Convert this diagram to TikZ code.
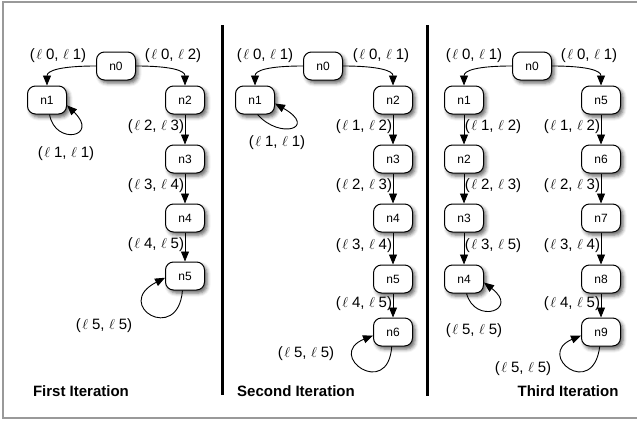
\documentclass[tikz,border=0pt]{standalone}
\usepackage{fontspec}
\setmainfont{Liberation Sans}
\usetikzlibrary{arrows.meta,shadows.blur}

% label of a transition: (l a, l b)
\newcommand\lpair[2]{(\hspace{.1em}$\ell$\hspace{.25em}#1,\hspace{.3em}$\ell$\hspace{.25em}#2)}

\begin{document}
\begin{tikzpicture}[x=1pt,y=-1pt,
  state/.style={draw, line width=1pt, fill=white, rounded corners=8pt,
    minimum width=39pt, minimum height=28pt, inner sep=0pt,
    font=\fontsize{12}{14}\selectfont,
    blur shadow={shadow xshift=2.5pt, shadow yshift=-3pt,
      shadow blur radius=3.5pt, shadow opacity=60}},
  tr/.style={-{Triangle[length=10pt,width=8pt]}, line width=0.9pt},
  lbl/.style={font=\fontsize{15}{17}\selectfont, inner sep=0pt},
  lleft/.style={lbl, anchor=east, pos=0.42, xshift=-0.5pt},
  lright/.style={lbl, anchor=west, pos=0.42, xshift=0.5pt},
  title/.style={font=\fontsize{15}{17}\selectfont\bfseries, inner sep=0pt},
  sep/.style={line width=3pt}
]
\useasboundingbox (0,0) rectangle (637,423);
\draw[gray!80, line width=1.5pt] (3,2) rectangle (660,418);

% separators between the three iterations
\draw[sep] (222,25) -- (222,395);
\draw[sep] (427,25) -- (427,396);

% ---------- first iteration ----------
\node[state] (a0) at (116,66) {n0};
\node[state] (a1) at (47,100) {n1};
\node[state] (a2) at (185,100) {n2};
\node[state] (a3) at (185,159) {n3};
\node[state] (a4) at (185,218) {n4};
\node[state] (a5) at (185,276) {n5};

\draw[tr] (a0.west) .. controls +(-35,0) and +(0,-15) .. (a1.north);
\draw[tr] (a0.east) .. controls +(35,0) and +(0,-15) .. (a2.north);
\node[lbl] at (58,56) {\lpair{0}{1}};
\node[lbl] at (173,56) {\lpair{0}{2}};
\draw[tr] (a1.-80) .. controls (55,146) and (100,137) .. (a1.-15);
\node[lbl] at (66,154) {\lpair{1}{1}};
\draw[tr] (a2) -- node[lleft] {\lpair{2}{3}} (a3);
\draw[tr] (a3) -- node[lleft] {\lpair{3}{4}} (a4);
\draw[tr] (a4) -- node[lleft] {\lpair{4}{5}} (a5);
\draw[tr] (a5.-100) .. controls (178,345) and (112,305) .. (a5.185);
\node[lbl] at (104,326) {\lpair{5}{5}};
\node[title] (t1) at (81,391) {First Iteration};

% ---------- second iteration ----------
\node[state] (b0) at (323,66) {n0};
\node[state] (b1) at (255,100) {n1};
\node[state] (b2) at (393,100) {n2};
\node[state] (b3) at (393,159) {n3};
\node[state] (b4) at (393,218) {n4};
\node[state] (b5) at (393,279) {n5};
\node[state] (b6) at (393,332) {n6};

\draw[tr] (b0.west) .. controls +(-35,0) and +(0,-15) .. (b1.north);
\draw[tr] (b0.east) .. controls +(35,0) and +(0,-15) .. (b2.north);
\node[lbl] at (265,56) {\lpair{0}{1}};
\node[lbl] at (381,56) {\lpair{0}{1}};
\draw[tr] (b1.-80) .. controls (280,140) and (318,128) .. (b1.-10);
\node[lbl] at (277,143) {\lpair{1}{1}};
\draw[tr] (b2) -- node[lleft] {\lpair{1}{2}} (b3);
\draw[tr] (b3) -- node[lleft] {\lpair{2}{3}} (b4);
\draw[tr] (b4) -- node[lleft] {\lpair{3}{4}} (b5);
\draw[tr] (b5) -- node[lleft] {\lpair{4}{5}} (b6);
\draw[tr] (b6.-95) .. controls (388,400) and (325,355) .. (b6.190);
\node[lbl] at (306,354) {\lpair{5}{5}};
\node[title] (t2) at (296,391) {Second Iteration};

% ---------- third iteration ----------
\node[state] (c0) at (532,66) {n0};
\node[state] (c1) at (464,100) {n1};
\node[state] (c2) at (464,159) {n2};
\node[state] (c3) at (464,218) {n3};
\node[state] (c4) at (464,279) {n4};
\node[state] (c5) at (601,100) {n5};
\node[state] (c6) at (601,159) {n6};
\node[state] (c7) at (601,218) {n7};
\node[state] (c8) at (601,279) {n8};
\node[state] (c9) at (601,332) {n9};

\draw[tr] (c0.west) .. controls +(-35,0) and +(0,-15) .. (c1.north);
\draw[tr] (c0.east) .. controls +(35,0) and +(0,-15) .. (c5.north);
\node[lbl] at (474,56) {\lpair{0}{1}};
\node[lbl] at (589,56) {\lpair{0}{1}};
\draw[tr] (c1) -- node[lright] {\lpair{1}{2}} (c2);
\draw[tr] (c2) -- node[lright] {\lpair{2}{3}} (c3);
\draw[tr] (c3) -- node[lright] {\lpair{3}{5}} (c4);
\draw[tr] (c4.-80) .. controls (475,325) and (520,310) .. (c4.-10);
\node[lbl] at (474,331) {\lpair{5}{5}};
\draw[tr] (c5) -- node[lleft] {\lpair{1}{2}} (c6);
\draw[tr] (c6) -- node[lleft] {\lpair{2}{3}} (c7);
\draw[tr] (c7) -- node[lleft] {\lpair{3}{4}} (c8);
\draw[tr] (c8) -- node[lleft] {\lpair{4}{5}} (c9);
\draw[tr] (c9.-95) .. controls (593,400) and (535,355) .. (c9.190);
\node[lbl] at (523,369) {\lpair{5}{5}};
\node[title] (t3) at (568,391) {Third Iteration};
\end{tikzpicture}
\end{document}
